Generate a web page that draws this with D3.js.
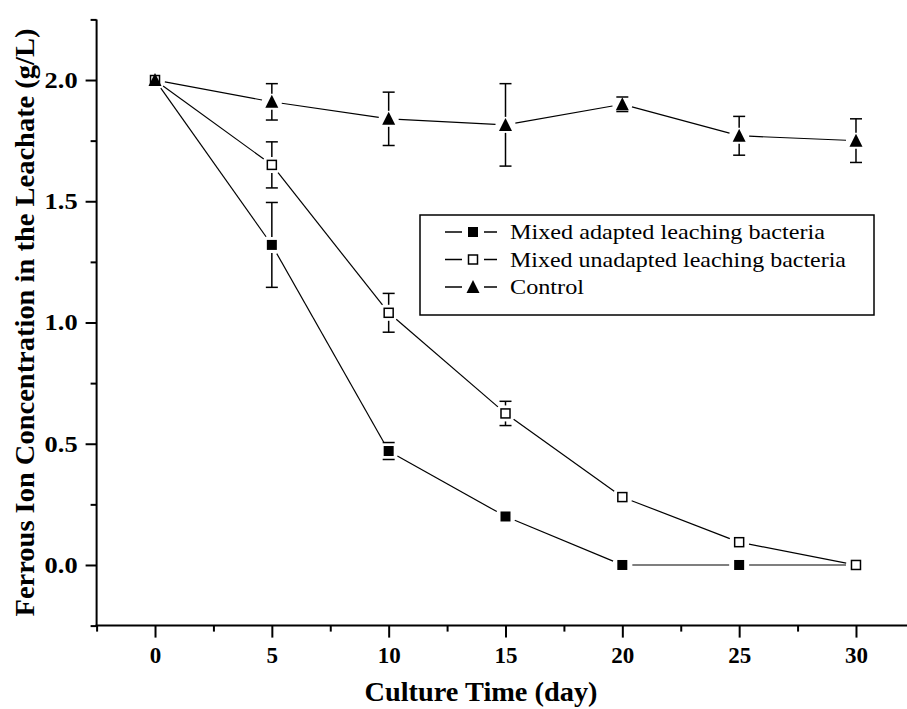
<!DOCTYPE html>
<html><head><meta charset="utf-8">
<script src="https://cdn.jsdelivr.net/npm/d3@7"></script>
<style>body{margin:0;background:#fff}svg{display:block}</style>
</head><body>
<svg id="c" width="907" height="709"></svg>
<script>
const days = [0, 5, 10, 15, 20, 25, 30];
const adapted = [2.0, 1.32, 0.47, 0.20, 0.0, 0.0, 0.0];
const adaptedErr = [0, 0.175, 0.035, 0, 0, 0, 0];
const unadapted = [2.0, 1.65, 1.04, 0.625, 0.28, 0.094, 0.0];
const unadaptedErr = [0, 0.095, 0.08, 0.05, 0, 0, 0];
const control = [2.0, 1.91, 1.84, 1.815, 1.90, 1.77, 1.75];
const controlErr = [0, 0.075, 0.11, 0.17, 0.03, 0.08, 0.09];
const seriesNames = ["Mixed adapted leaching bacteria", "Mixed unadapted leaching bacteria", "Control"];
const xMajor = [0, 5, 10, 15, 20, 25, 30];
const xMinor = [-2.5, 2.5, 7.5, 12.5, 17.5, 22.5, 27.5, 32.5];
const yMajor = [0, 0.5, 1.0, 1.5, 2.0];
const yMinor = [-0.25, 0.25, 0.75, 1.25, 1.75, 2.25];
const xTitle = "Culture Time (day)";
const yTitle = "Ferrous Ion Concentration in the Leachate (g/L)";

const svg = d3.select("#c");
const x = d3.scaleLinear().domain([-2.5, 32.5]).range([96.6, 914.4]);
const y = d3.scaleLinear().domain([-0.25, 2.25]).range([625.6, 19.4]);
const font = "'Liberation Serif','Times New Roman',serif";

function styleAxis(g){ g.select(".domain").remove(); g.selectAll("line").attr("stroke","#000").attr("stroke-width",2); }
const gxMinor = svg.append("g").attr("transform","translate(0,625.6)")
  .call(d3.axisBottom(x).tickValues(xMinor).tickSize(6).tickFormat(""));
styleAxis(gxMinor);
const gx = svg.append("g").attr("transform","translate(0,625.6)")
  .call(d3.axisBottom(x).tickValues(xMajor).tickSize(12).tickPadding(9).tickFormat(d3.format("d")));
styleAxis(gx);
gx.selectAll("text").attr("font-family",font).attr("font-weight","bold").attr("font-size",23).attr("fill","#000");
const gyMinor = svg.append("g").attr("transform","translate(96.6,0)")
  .call(d3.axisLeft(y).tickValues(yMinor).tickSize(6).tickFormat(""));
styleAxis(gyMinor);
const gy = svg.append("g").attr("transform","translate(96.6,0)")
  .call(d3.axisLeft(y).tickValues(yMajor).tickSize(11).tickPadding(8).tickFormat(d3.format(".1f")));
styleAxis(gy);
gy.selectAll("text").attr("font-family",font).attr("font-weight","bold").attr("font-size",23).attr("fill","#000")
  .attr("textLength",33).attr("lengthAdjust","spacingAndGlyphs");
svg.append("line").attr("x1",96.6).attr("x2",96.6).attr("y1",y(2.25)).attr("y2",y(-0.25)+1).attr("stroke","#000").attr("stroke-width",2);
svg.append("line").attr("x1",x(-2.5)-1).attr("x2",x(32.5)).attr("y1",625.6).attr("y2",625.6).attr("stroke","#000").attr("stroke-width",2);

svg.append("text").attr("x",481).attr("y",701).attr("text-anchor","middle")
  .attr("font-family",font).attr("font-weight","bold").attr("font-size",28)
  .attr("textLength",233).attr("lengthAdjust","spacingAndGlyphs").text(xTitle);
svg.append("text").attr("transform","translate(34,"+((y(2.25)+y(-0.25))/2)+") rotate(-90)").attr("text-anchor","middle")
  .attr("font-family",font).attr("font-weight","bold").attr("font-size",27)
  .attr("textLength",588).attr("lengthAdjust","spacingAndGlyphs").text(yTitle);

const series = [
  {vals: adapted, err: adaptedErr, sym: "fsq"},
  {vals: unadapted, err: unadaptedErr, sym: "osq"},
  {vals: control, err: controlErr, sym: "tri"}
];
const plot = svg.append("g");
const gap = 10;
series.forEach(s => {
  for (let i = 0; i < days.length - 1; i++) {
    const x1 = x(days[i]), y1 = y(s.vals[i]), x2 = x(days[i+1]), y2 = y(s.vals[i+1]);
    const dx = x2 - x1, dy = y2 - y1, L = Math.hypot(dx, dy);
    const ux = dx / L, uy = dy / L;
    plot.append("line").attr("x1", x1 + ux*gap).attr("y1", y1 + uy*gap)
      .attr("x2", x2 - ux*gap).attr("y2", y2 - uy*gap)
      .attr("stroke","#000").attr("stroke-width",1.2);
  }
});
series.forEach(s => {
  days.forEach((d, i) => {
    const e = s.err[i]; if (!e) return;
    const cx = x(d), cy = y(s.vals[i]), top = y(s.vals[i] + e), bot = y(s.vals[i] - e);
    const g = plot.append("g").attr("stroke","#000").attr("stroke-width",1.5);
    [top, bot].forEach(t => g.append("line").attr("x1",cx-6).attr("x2",cx+6).attr("y1",t).attr("y2",t));
    if (cy - top > 9) g.append("line").attr("x1",cx).attr("x2",cx).attr("y1",top).attr("y2",cy-8);
    if (bot - cy > 9) g.append("line").attr("x1",cx).attr("x2",cx).attr("y1",cy+8).attr("y2",bot);
  });
});
function drawSym(g, sym, cx, cy) {
  if (sym === "fsq") g.append("rect").attr("x",cx-5).attr("y",cy-5).attr("width",10).attr("height",10).attr("fill","#000");
  else if (sym === "osq") g.append("rect").attr("x",cx-4.5).attr("y",cy-4.5).attr("width",9).attr("height",9).attr("fill","#fff").attr("stroke","#000").attr("stroke-width",1.5);
  else g.append("path").attr("d",`M${cx},${cy-7}L${cx+6.5},${cy+6}L${cx-6.5},${cy+6}Z`).attr("fill","#000");
}
series.forEach(s => {
  days.forEach((d, i) => drawSym(plot, s.sym, x(d), y(s.vals[i])));
});

const lg = svg.append("g");
lg.append("rect").attr("x",420).attr("y",215).attr("width",454).attr("height",100).attr("fill","#fff").attr("stroke","#000").attr("stroke-width",1.5);
const rowY = [232, 259.5, 287];
const txtLen = [315, 336, 74];
series.forEach((s, i) => {
  const ry = rowY[i];
  lg.append("line").attr("x1",445).attr("x2",462).attr("y1",ry).attr("y2",ry).attr("stroke","#000").attr("stroke-width",1.5);
  lg.append("line").attr("x1",484).attr("x2",497).attr("y1",ry).attr("y2",ry).attr("stroke","#000").attr("stroke-width",1.5);
  drawSym(lg, s.sym, 473, ry);
  lg.append("text").attr("x",510).attr("y",ry+7).attr("font-family",font).attr("font-size",21)
    .attr("textLength",txtLen[i]).attr("lengthAdjust","spacingAndGlyphs").text(seriesNames[i]);
});
</script>
</body></html>
